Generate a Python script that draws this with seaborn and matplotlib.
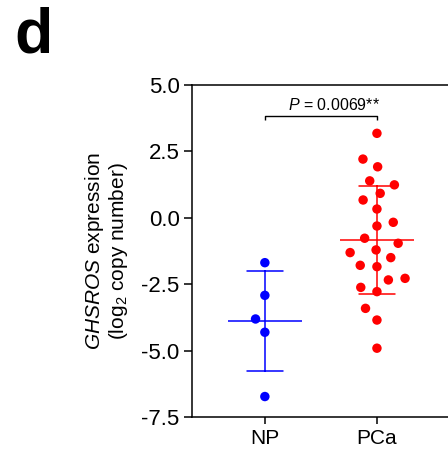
import numpy as np
import pandas as pd
import matplotlib
matplotlib.use("Agg")
import matplotlib.pyplot as plt
import seaborn as sns

# GHSROS expression (log2 copy number) per sample
groups = ["NP", "PCa"]
np_values = [-1.69, -2.92, -3.81, -4.31, -6.73]
pca_values = [3.18, 2.21, 1.92, 1.39, 1.24, 0.92, 0.67, 0.33,
              -0.17, -0.31, -0.77, -0.96, -1.21, -1.31, -1.50, -1.79,
              -1.84, -2.28, -2.34, -2.62, -2.78, -3.41, -3.85, -4.91]
y_ticks = [5.0, 2.5, 0.0, -2.5, -5.0, -7.5]
p_label = "0.0069**"

df = pd.DataFrame({
    "group": ["NP"] * len(np_values) + ["PCa"] * len(pca_values),
    "value": np_values + pca_values,
})
palette = {"NP": "#0000ff", "PCa": "#ff0000"}

sns.set_theme(style="ticks")
plt.rcParams["font.family"] = ["Liberation Sans", "DejaVu Sans"]
plt.rcParams["mathtext.fontset"] = "custom"
plt.rcParams["mathtext.rm"] = "Liberation Sans"
plt.rcParams["mathtext.it"] = "Liberation Sans:italic"
plt.rcParams["axes.unicode_minus"] = False
plt.rcParams["text.color"] = "black"
plt.rcParams["axes.labelcolor"] = "black"

fig = plt.figure(figsize=(4.48, 4.53), dpi=100)
ax = fig.add_axes([0.4286, 0.0795, 0.5714, 0.7329])
ax.set_xlim(-0.65, 1.634)
ax.set_ylim(-7.5, 5.0)

# lay the swarm out with a roomy spacing, then fix positions and shrink dots
sns.swarmplot(data=df, x="group", y="value", hue="group", palette=palette,
              order=groups, size=11.5, linewidth=0, legend=False, ax=ax)
ax.set_xlim(-0.65, 1.634)
ax.set_ylim(-7.5, 5.0)
fig.canvas.draw()
dot_area = 6.8 ** 2
for coll in ax.collections:
    if "draw" in coll.__dict__:
        del coll.draw
    coll.set_sizes(np.full(len(coll.get_offsets()), dot_area))

# mean line with SD error bars
sns.pointplot(data=df, x="group", y="value", hue="group", palette=palette,
              order=groups, errorbar="sd", capsize=0.32, markers="_",
              markersize=53, markeredgewidth=1.1, linestyle="none",
              err_kws={"linewidth": 1.1}, legend=False, ax=ax)

ax.set_xlim(-0.65, 1.634)
ax.set_ylim(-7.5, 5.0)
ax.set_yticks(y_ticks)
ax.set_yticklabels([f"{t:.1f}" for t in y_ticks])
ax.set_xlabel("")
ax.set_ylabel("$\\it{GHSROS}$ expression\n(log$_2$ copy number)",
              fontsize=15, linespacing=1.05, labelpad=8)

for side in ["left", "top", "bottom"]:
    ax.spines[side].set_linewidth(1.1)
    ax.spines[side].set_color("black")
ax.spines["right"].set_visible(False)
ax.tick_params(axis="y", labelsize=16, length=6, width=1.1, pad=3, colors="black")
ax.tick_params(axis="x", labelsize=15, length=5, width=1.1, pad=4, colors="black")

# significance bracket
ax.plot([0, 0, 1, 1], [3.70, 3.84, 3.84, 3.70], color="black", lw=1.0,
        solid_capstyle="butt")
ax.text(0.616, 3.95, "$\\it{P}$ = " + p_label, ha="center", va="bottom",
        fontsize=11.5)

fig.text(0.033, 0.985, "d", fontsize=45, fontweight="bold", ha="left", va="top")

fig.savefig("out.png", dpi=100)
